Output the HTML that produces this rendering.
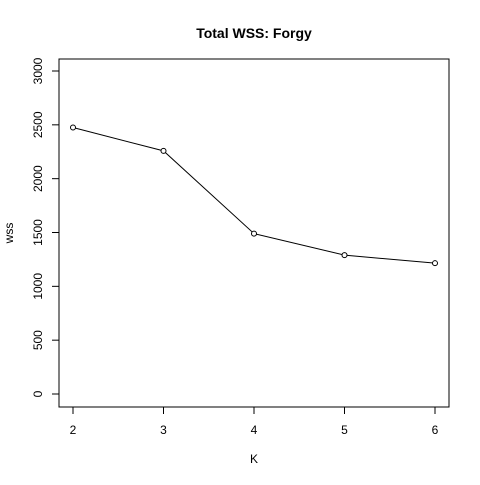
<!DOCTYPE html>
<html><head><style>body{margin:0;background:#fff}svg{font-family:"Liberation Sans",Arial,sans-serif}</style></head>
<body>
<svg id="chart" width="480" height="480" xmlns="http://www.w3.org/2000/svg">
<rect width="480" height="480" fill="#fff"/>
<text x="254" y="38" text-anchor="middle" font-size="14" font-weight="bold">Total WSS: Forgy</text>
<rect x="59" y="59" width="390" height="348" fill="none" stroke="#000"/>
<text x="254" y="463" text-anchor="middle" font-size="12">K</text>
<text transform="translate(13,233) rotate(-90)" text-anchor="middle" font-size="12">wss</text>
<g id="axes"></g>
<g id="marks"></g>
</svg>
<script>
const categories=[2,3,4,5,6];
const wssValues=[2475,2258,1490,1290,1215];
const yTicks=[0,500,1000,1500,2000,2500,3000];
const xs=k=>73+(k-2)*90.5;
const ys=v=>394-v*(323/3000);
const NS="http://www.w3.org/2000/svg";
const axes=document.getElementById('axes'),marks=document.getElementById('marks');
function mk(t,a,p){const e=document.createElementNS(NS,t);for(const k in a)e.setAttribute(k,a[k]);p.appendChild(e);return e;}
mk('line',{x1:xs(2),x2:xs(6),y1:407,y2:407,stroke:'#000'},axes);
categories.forEach(k=>{
 const t=mk('line',{x1:xs(k),x2:xs(k),y1:407,y2:414,stroke:'#000'},axes);
 
 
 const l=mk('text',{x:xs(k),y:434,'text-anchor':'middle','font-size':12},axes);l.textContent=k;
 
 
});
mk('line',{x1:59,x2:59,y1:ys(0),y2:ys(3000),stroke:'#000'},axes);
yTicks.forEach(v=>{
 const t=mk('line',{x1:52,x2:59,y1:ys(v),y2:ys(v),stroke:'#000'},axes);
 
 
 const l=mk('text',{transform:`translate(42,${ys(v)}) rotate(-90)`,'text-anchor':'middle','font-size':12},axes);l.textContent=v;
 
 
});
const pts=categories.map((k,i)=>[xs(k),ys(wssValues[i])]);
const line=mk('polyline',{points:pts.map(p=>p.join(',')).join(' '),fill:'none',stroke:'#000'},marks);


pts.forEach(p=>{
 const c=mk('circle',{cx:p[0],cy:p[1],r:2.5,fill:'#fff',stroke:'#000'},marks);
 
 
});
</script>
</body></html>
